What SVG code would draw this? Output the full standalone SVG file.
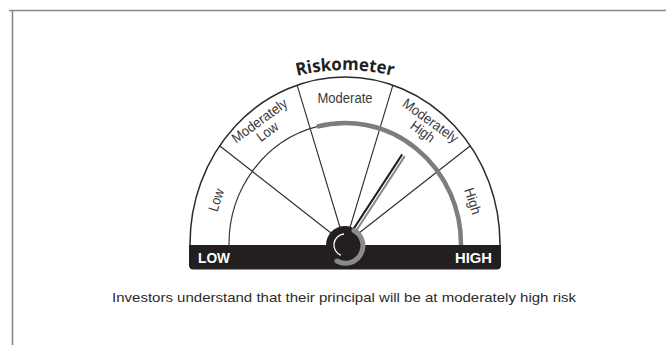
<svg xmlns="http://www.w3.org/2000/svg" width="666" height="345" viewBox="0 0 666 345">
<style>
.frame{stroke:#8a8a8a;stroke-width:1.6;fill:none}
.arc{stroke:#2b2b2b;stroke-width:1.5;fill:none}
.div{stroke:#2b2b2b;stroke-width:1.1;fill:none}
.lbl{font-family:"Liberation Sans",Arial,sans-serif;font-size:14px;fill:#3a3a3a;text-anchor:middle}
.bar{font-family:"Liberation Sans",Arial,sans-serif;font-weight:bold;font-size:15px;fill:#ffffff}
.title{font-family:"Open Sans","Liberation Sans",sans-serif;font-weight:bold;font-size:17.5px;fill:#231f20}
.cap{font-family:"Liberation Sans",Arial,sans-serif;font-size:13.5px;fill:#2b2b2b}
</style>
<defs>
<path id="titlePath" d="M235,103 A200,200 0 0 1 455,103"/>
</defs>
<rect width="666" height="345" fill="#ffffff"/>
<g id="frame">
<path class="frame" d="M9,10.5 H666 M12.5,10 V345"/>
</g>
<g id="title">
<text class="title" text-anchor="middle"><textPath href="#titlePath" startOffset="50%" textLength="97" lengthAdjust="spacingAndGlyphs">Riskometer</textPath></text>
</g>
<g id="connectors">
<line class="div" x1="345" y1="244" x2="219.6" y2="145.8"/>
<line class="div" x1="345" y1="244" x2="297.1" y2="85.2"/>
<line class="div" x1="345" y1="244" x2="392.9" y2="85.2"/>
<line class="div" x1="345" y1="244" x2="470.4" y2="145.8"/>
</g>
<g id="dial">
<path class="arc" d="M190,250 V244 A155,167 0 0 1 500,244 V250"/>
<path d="M229,246 V244 A116,121 0 0 1 316.9,126.6" fill="none" stroke="#3a3a3a" stroke-width="1.2"/>
<path d="M316.9,126.6 A116,121 0 0 1 461,244 V247" fill="none" stroke="#7d7d7d" stroke-width="4.5"/>
</g>
<g id="seg-low"><text class="lbl" transform="translate(216,200) rotate(-72)" y="5" textLength="23" lengthAdjust="spacingAndGlyphs">Low</text></g>
<g id="seg-modlow"><g transform="translate(264,127) rotate(-36)">
<text class="lbl" y="-3" textLength="65" lengthAdjust="spacingAndGlyphs">Moderately</text>
<text class="lbl" y="10.5" textLength="23" lengthAdjust="spacingAndGlyphs">Low</text></g></g>
<g id="seg-moderate"><text class="lbl" x="345" y="102.5" textLength="55" lengthAdjust="spacingAndGlyphs">Moderate</text></g>
<g id="seg-modhigh"><g transform="translate(426,127) rotate(36)">
<text class="lbl" y="-3" textLength="65" lengthAdjust="spacingAndGlyphs">Moderately</text>
<text class="lbl" y="10.5" textLength="26" lengthAdjust="spacingAndGlyphs">High</text></g></g>
<g id="seg-high"><text class="lbl" transform="translate(473,201) rotate(72)" y="5" textLength="27" lengthAdjust="spacingAndGlyphs">High</text></g>
<g id="bar">
<path d="M189,245 H501 V265 Q501,269.5 496.5,269.5 H193.5 Q189,269.5 189,265 Z" fill="#231f20"/>
<text class="bar" x="198" y="263" textLength="32" lengthAdjust="spacingAndGlyphs">LOW</text>
<text class="bar" x="455" y="263" textLength="37" lengthAdjust="spacingAndGlyphs">HIGH</text>
</g>
<g id="needle">
<line x1="352.6" y1="233.3" x2="403" y2="156" stroke="#ffffff" stroke-width="4" stroke-linecap="round"/>
<line x1="351.3" y1="232.4" x2="401.7" y2="155.1" stroke="#231f20" stroke-width="2" stroke-linecap="round"/>
<line x1="353.9" y1="234.2" x2="404.3" y2="156.9" stroke="#8a8a8a" stroke-width="2" stroke-linecap="round"/>
</g>
<g id="hub">
<circle cx="345" cy="245" r="19" fill="#231f20"/>
<path d="M354,230.5 A17,17 0 0 1 337,261" fill="none" stroke="#8a8a8a" stroke-width="5" stroke-linecap="round"/>
<path d="M340.9,255.2 A11,11 0 0 1 344,234" fill="none" stroke="#ffffff" stroke-width="1.3"/>
</g>
<g id="caption">
<text class="cap" x="112" y="302" textLength="464" lengthAdjust="spacingAndGlyphs">Investors understand that their principal will be at moderately high risk</text>
</g>
</svg>
